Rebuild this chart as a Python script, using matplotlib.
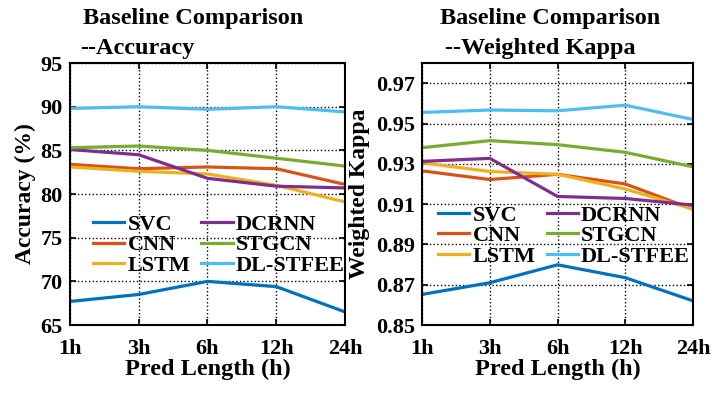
import matplotlib.pyplot as plt

plt.rcParams['font.family'] = ['Liberation Serif', 'DejaVu Serif']
plt.rcParams['font.weight'] = 'bold'

horizons = ['1h', '3h', '6h', '12h', '24h']
models = ['SVC', 'CNN', 'LSTM', 'DCRNN', 'STGCN', 'DL-STFEE']
colors = ['#0072BD', '#D95319', '#EDB120', '#7E2F8E', '#77AC30', '#4DBEEE']

acc_svc = [67.7, 68.5, 70.0, 69.4, 66.5]
acc_cnn = [83.4, 82.9, 83.1, 82.9, 81.1]
acc_lstm = [83.1, 82.6, 82.3, 81.0, 79.1]
acc_dcrnn = [85.1, 84.5, 81.8, 80.9, 80.7]
acc_stgcn = [85.3, 85.5, 85.0, 84.1, 83.2]
acc_dlstfee = [89.8, 90.0, 89.7, 90.0, 89.4]

kap_svc = [0.8652, 0.8710, 0.8799, 0.8735, 0.8620]
kap_cnn = [0.9265, 0.9222, 0.9248, 0.9200, 0.9075]
kap_lstm = [0.9305, 0.9262, 0.9248, 0.9175, 0.9075]
kap_dcrnn = [0.9312, 0.9327, 0.9138, 0.9128, 0.9095]
kap_stgcn = [0.9380, 0.9415, 0.9395, 0.9357, 0.9285]
kap_dlstfee = [0.9555, 0.9567, 0.9563, 0.9591, 0.9520]

acc = [acc_svc, acc_cnn, acc_lstm, acc_dcrnn, acc_stgcn, acc_dlstfee]
kap = [kap_svc, kap_cnn, kap_lstm, kap_dcrnn, kap_stgcn, kap_dlstfee]

fig = plt.figure(figsize=(7.13, 3.94), dpi=100)
ax1 = fig.add_axes([0.098, 0.175, 0.386, 0.665])
ax2 = fig.add_axes([0.592, 0.175, 0.380, 0.665])

x = range(len(horizons))


def style(ax):
    ax.set_xlim(0, len(horizons) - 1)
    ax.set_xticks(list(x))
    ax.set_xticklabels(horizons)
    ax.grid(True, color='black', linestyle=':', linewidth=1.0)
    ax.tick_params(direction='in', top=True, right=True, labelsize=16,
                   length=4, width=1.2)
    ax.tick_params(axis='x', pad=10)
    ax.tick_params(axis='y', pad=5)
    for s in ax.spines.values():
        s.set_linewidth(1.5)
    ax.set_xlabel('Pred Length (h)', fontsize=17.5, fontweight='bold')
    ax.xaxis.set_label_coords(0.5, -0.13)


def legend(ax, x0, y0):
    ax.legend(ncol=2, frameon=False, loc='center left', bbox_to_anchor=(x0, y0),
              fontsize=16, handlelength=1.4, handletextpad=0.15,
              columnspacing=0.5, labelspacing=0.0, borderpad=0,
              borderaxespad=0)


for name, vals, c in zip(models, acc, colors):
    ax1.plot(x, vals, color=c, linewidth=2.3, label=name)
style(ax1)
ax1.set_ylim(65, 95)
ax1.set_yticks([65, 70, 75, 80, 85, 90, 95])
ax1.set_ylabel('Accuracy (%)', fontsize=17, fontweight='bold')
ax1.yaxis.set_label_coords(-0.123, 0.5)
legend(ax1, 0.084, 0.305)

for name, vals, c in zip(models, kap, colors):
    ax2.plot(x, vals, color=c, linewidth=2.3, label=name)
style(ax2)
ax2.set_ylim(0.85, 0.98)
ax2.set_yticks([0.85, 0.87, 0.89, 0.91, 0.93, 0.95, 0.97])
ax2.set_ylabel('Weighted Kappa', fontsize=17, fontweight='bold')
ax2.yaxis.set_label_coords(-0.192, 0.5)
legend(ax2, 0.059, 0.34)

fig.text(0.271, 0.952, 'Baseline Comparison', ha='center', va='center',
         fontsize=17.5, fontweight='bold')
fig.text(0.112, 0.876, '--Accuracy', ha='left', va='center',
         fontsize=17.5, fontweight='bold')
fig.text(0.772, 0.952, 'Baseline Comparison', ha='center', va='center',
         fontsize=17.5, fontweight='bold')
fig.text(0.624, 0.876, '--Weighted Kappa', ha='left', va='center',
         fontsize=17.5, fontweight='bold')

fig.savefig('out.png', dpi=100)
